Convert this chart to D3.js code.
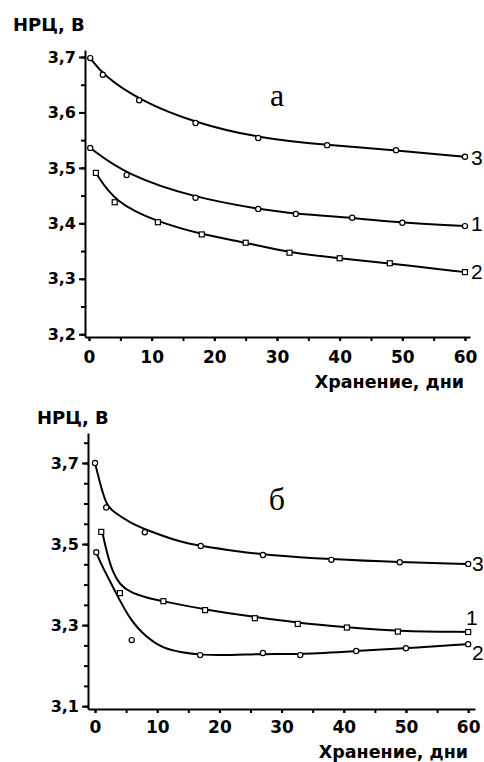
<!DOCTYPE html>
<html>
<head>
<meta charset="utf-8">
<script src="https://cdn.jsdelivr.net/npm/d3@7"></script>
<style>
  body { margin: 0; background: #fff; }
  .tick text { font-family: "DejaVu Sans", sans-serif; font-weight: bold; fill: #000; }
  .domain, .tick line { stroke: #000; stroke-width: 2; }
</style>
</head>
<body>
<script>
// ---- data ----
var xTicks = [0, 10, 20, 30, 40, 50, 60];
var xMinor = [0, 5, 10, 15, 20, 25, 30, 35, 40, 45, 50, 55, 60];

// panel a
var aTicks = [3.2, 3.3, 3.4, 3.5, 3.6, 3.7];
var aMinor = [3.2, 3.25, 3.3, 3.35, 3.4, 3.45, 3.5, 3.55, 3.6, 3.65, 3.7];
var a3Days = [0.2, 2.2, 8, 17, 27, 38, 49, 60];
var a3Vals = [3.698, 3.668, 3.622, 3.581, 3.554, 3.541, 3.532, 3.520];
var a1Days = [0.2, 6, 17, 27, 33, 42, 50, 60];
var a1Vals = [3.536, 3.487, 3.446, 3.426, 3.417, 3.410, 3.401, 3.395];
var a2Days = [1.1, 4.1, 11, 18, 25, 32, 40, 48, 60];
var a2Vals = [3.491, 3.438, 3.402, 3.380, 3.365, 3.347, 3.337, 3.328, 3.312];

// panel б
var bTicks = [3.1, 3.3, 3.5, 3.7];
var bMinor = [3.1, 3.15, 3.2, 3.25, 3.3, 3.35, 3.4, 3.45, 3.5, 3.55, 3.6, 3.65, 3.7, 3.75];
var b3Days = [0, 1.8, 8, 17, 27, 38, 49, 60];
var b3Vals = [3.700, 3.590, 3.529, 3.495, 3.473, 3.461, 3.455, 3.451];
var b1Days = [1, 4, 11, 17.7, 25.7, 32.6, 40.5, 48.7, 60];
var b1Vals = [3.530, 3.379, 3.359, 3.337, 3.317, 3.303, 3.294, 3.284, 3.283];
var b2Days = [0.2, 5.9, 16.9, 27, 33, 42, 50, 60];
var b2Vals = [3.480, 3.263, 3.226, 3.231, 3.226, 3.236, 3.243, 3.253];
// fitted curves of panel б (they do not pass through every point)
var b3FitDays = [0, 0.8, 1.8, 2.9, 5.6, 8.4, 13.7, 17, 23.3, 27, 38, 49, 60];
var b3FitVals = [3.700, 3.650, 3.597, 3.580, 3.553, 3.534, 3.505, 3.495, 3.481, 3.474, 3.462, 3.455, 3.451];
var b1FitDays = [1.1, 1.9, 2.9, 4, 5.6, 8.4, 10.9, 18, 25.7, 32.7, 40.5, 48.7, 60];
var b1FitVals = [3.535, 3.478, 3.428, 3.400, 3.381, 3.367, 3.359, 3.337, 3.320, 3.305, 3.295, 3.285, 3.283];
var b2FitDays = [0, 1.3, 2.9, 5.6, 8.4, 10.9, 13.7, 16.9, 22, 27, 33, 42, 50, 60];
var b2FitVals = [3.485, 3.440, 3.394, 3.312, 3.268, 3.243, 3.233, 3.226, 3.226, 3.229, 3.228, 3.236, 3.243, 3.253];

var svgWidth = 484;
var svgHeight = 762;

var svg = d3.select("body")
  .append("svg")
  .attr("width", svgWidth)
  .attr("height", svgHeight);

function fmt(d) { return d.toFixed(1).replace(".", ","); }
function zip(days, vals) { return days.map((d, i) => ({ day: d, v: vals[i] })); }

function panel(p) {
  var g = svg.append("g");

  var xScale = d3.scaleLinear().domain(p.xDomain).range(p.xRange);
  var yScale = d3.scaleLinear().domain(p.yDomain).range(p.yRange);

  // minor ticks
  g.append("g")
    .attr("transform", `translate(0, ${yScale(p.yDomain[0])})`)
    .call(d3.axisBottom(xScale).tickValues(xMinor).tickSize(4).tickSizeOuter(0).tickFormat(""));
  g.append("g")
    .attr("transform", `translate(${xScale(p.xDomain[0])}, 0)`)
    .call(d3.axisLeft(yScale).tickValues(p.yMinor).tickSize(4).tickSizeOuter(0).tickFormat(""));

  // labelled ticks
  var xa = g.append("g")
    .attr("transform", `translate(0, ${yScale(p.yDomain[0])})`)
    .call(d3.axisBottom(xScale).tickValues(xTicks).tickSize(4).tickPadding(p.xPad).tickSizeOuter(0));
  xa.selectAll("text").style("font-size", "17px");
  xa.select(".domain").remove();

  var ya = g.append("g")
    .attr("transform", `translate(${xScale(p.xDomain[0])}, 0)`)
    .call(d3.axisLeft(yScale).tickValues(p.yTicks).tickSize(6).tickPadding(3).tickSizeOuter(0).tickFormat(fmt));
  ya.selectAll("text").style("font-size", "16px");
  ya.select(".domain").remove();

  var line = d3.line()
    .x(d => xScale(d.day))
    .y(d => yScale(d.v))
    .curve(d3.curveBasis);

  p.series.forEach(function(s) {
    g.append("path")
      .datum(s.fit)
      .attr("d", line)
      .attr("fill", "none")
      .attr("stroke", "#000")
      .attr("stroke-width", 2);

    var pts = g.selectAll(".pt" + s.name + p.key)
      .data(s.pts)
      .enter();
    if (s.shape == "square") {
      pts.append("rect")
        .attr("x", d => xScale(d.day) - 2.5)
        .attr("y", d => yScale(d.v) - 2.5)
        .attr("width", 5)
        .attr("height", 5)
        .attr("fill", "#fff")
        .attr("stroke", "#000")
        .attr("stroke-width", 1.2);
    } else {
      pts.append("circle")
        .attr("cx", d => xScale(d.day))
        .attr("cy", d => yScale(d.v))
        .attr("r", 2.6)
        .attr("fill", "#fff")
        .attr("stroke", "#000")
        .attr("stroke-width", 1.2);
    }

    g.append("text")
      .attr("x", s.lx)
      .attr("y", s.ly)
      .style("font-family", "Liberation Sans, Arial, sans-serif")
      .style("font-size", "21px")
      .text(s.name);
  });

  g.append("text")
    .attr("x", p.titleX)
    .attr("y", p.titleY)
    .style("font-family", "DejaVu Sans, sans-serif")
    .style("font-weight", "bold")
    .style("font-size", "18px")
    .text("НРЦ, В");

  g.append("text")
    .attr("x", p.xLabelX)
    .attr("y", p.xLabelY)
    .style("text-anchor", "end")
    .style("font-family", "DejaVu Sans, sans-serif")
    .style("font-weight", "bold")
    .style("font-size", "17.5px")
    .text("Хранение, дни");

  g.append("text")
    .attr("x", 277)
    .attr("y", p.letterY)
    .style("text-anchor", "middle")
    .style("font-family", "Liberation Serif, Times New Roman, serif")
    .style("font-size", "32px")
    .text(p.letter);
}

panel({
  key: "a",
  xDomain: [-0.64, 60.8], xRange: [85, 470],
  yDomain: [3.195, 3.7126], yRange: [337, 50],
  yTicks: aTicks, yMinor: aMinor, xPad: 10,
  titleX: 13, titleY: 31,
  xLabelX: 464, xLabelY: 388,
  letter: "а", letterY: 106,
  series: [
    { name: "3", shape: "circle", pts: zip(a3Days, a3Vals), fit: zip(a3Days, a3Vals), lx: 471, ly: 165 },
    { name: "1", shape: "circle", pts: zip(a1Days, a1Vals), fit: zip(a1Days, a1Vals), lx: 471, ly: 231 },
    { name: "2", shape: "square", pts: zip(a2Days, a2Vals), fit: zip(a2Days, a2Vals), lx: 471, ly: 279 }
  ]
});

panel({
  key: "b",
  xDomain: [-1.13, 61.1], xRange: [88, 475],
  yDomain: [3.093, 3.774], yRange: [709, 433],
  yTicks: bTicks, yMinor: bMinor, xPad: 8,
  titleX: 37, titleY: 424,
  xLabelX: 468, xLabelY: 758,
  letter: "б", letterY: 510,
  series: [
    { name: "3", shape: "circle", pts: zip(b3Days, b3Vals), fit: zip(b3FitDays, b3FitVals), lx: 472, ly: 571 },
    { name: "1", shape: "square", pts: zip(b1Days, b1Vals), fit: zip(b1FitDays, b1FitVals), lx: 466, ly: 625 },
    { name: "2", shape: "circle", pts: zip(b2Days, b2Vals), fit: zip(b2FitDays, b2FitVals), lx: 472, ly: 660 }
  ]
});
</script>
</body>
</html>
